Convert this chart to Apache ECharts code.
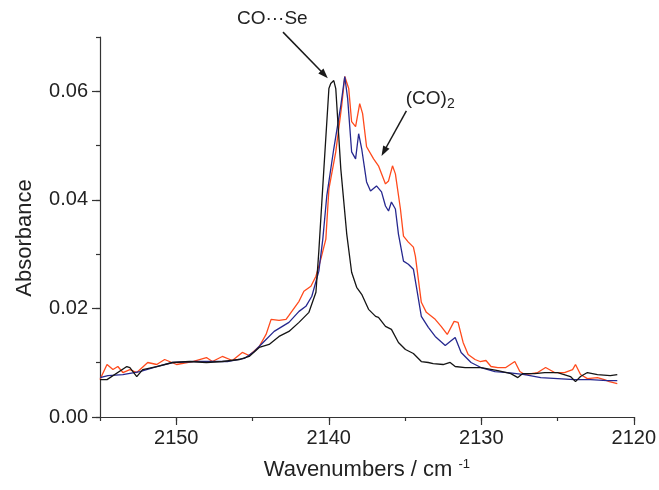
<!DOCTYPE html>
<html><head><meta charset="utf-8">
<script src="https://cdn.jsdelivr.net/npm/echarts@6/dist/echarts.min.js"></script>
<style>html,body{margin:0;padding:0;background:#fff}#c{width:659px;height:490px}</style>
</head><body><div id="c"></div>
<script>
// ---- data ----
const wnBlack = [2155.00, 2154.54, 2153.24, 2153.04, 2152.59, 2152.20, 2151.28, 2150.24, 2149.13, 2148.02, 2146.98, 2145.87, 2145.22, 2144.56, 2143.91, 2143.26, 2142.61, 2141.95, 2141.30, 2140.84, 2140.65, 2140.32, 2139.99, 2139.87, 2139.67, 2139.54, 2139.21, 2138.82, 2138.50, 2138.17, 2137.84, 2137.39, 2136.93, 2136.74, 2136.28, 2135.89, 2135.43, 2134.97, 2134.45, 2133.93, 2133.47, 2133.15, 2132.50, 2132.04, 2131.71, 2131.06, 2130.02, 2128.91, 2128.06, 2127.60, 2127.28, 2126.49, 2125.84, 2124.99, 2124.15, 2123.82, 2123.49, 2123.04, 2122.38, 2121.54, 2121.08];
const absBlack = [0.00689, 0.00689, 0.00930, 0.00911, 0.00745, 0.00874, 0.00930, 0.01004, 0.01022, 0.01004, 0.01022, 0.01059, 0.01115, 0.01281, 0.01336, 0.01484, 0.01577, 0.01743, 0.01928, 0.02298, 0.03056, 0.04571, 0.06050, 0.06142, 0.06198, 0.06050, 0.04571, 0.03370, 0.02667, 0.02390, 0.02261, 0.01983, 0.01854, 0.01835, 0.01669, 0.01614, 0.01373, 0.01244, 0.01170, 0.01022, 0.01004, 0.00985, 0.00967, 0.01004, 0.00930, 0.00911, 0.00911, 0.00856, 0.00800, 0.00726, 0.00800, 0.00800, 0.00819, 0.00819, 0.00745, 0.00652, 0.00745, 0.00819, 0.00782, 0.00763, 0.00782];

const wnBlue = [2155.00, 2154.48, 2153.50, 2152.39, 2151.28, 2150.24, 2148.80, 2146.65, 2145.54, 2144.89, 2144.24, 2143.58, 2142.61, 2141.95, 2141.50, 2141.11, 2140.65, 2140.39, 2140.13, 2139.67, 2139.21, 2138.95, 2138.76, 2138.50, 2138.24, 2138.04, 2137.84, 2137.52, 2137.26, 2136.87, 2136.54, 2136.28, 2136.08, 2135.89, 2135.63, 2135.43, 2135.10, 2134.78, 2134.45, 2134.26, 2133.93, 2133.47, 2133.02, 2132.36, 2132.04, 2131.71, 2131.32, 2130.67, 2130.02, 2129.10, 2128.25, 2127.15, 2126.10, 2124.99, 2123.88, 2122.84, 2121.73, 2121.08];
const absBlue = [0.00726, 0.00763, 0.00782, 0.00837, 0.00930, 0.01004, 0.01022, 0.01022, 0.01078, 0.01207, 0.01392, 0.01577, 0.01743, 0.01946, 0.02039, 0.02224, 0.02686, 0.03277, 0.04072, 0.04941, 0.05736, 0.06272, 0.05865, 0.04885, 0.04756, 0.05218, 0.04941, 0.04331, 0.04165, 0.04257, 0.04146, 0.03887, 0.03795, 0.03961, 0.03832, 0.03370, 0.02871, 0.02815, 0.02723, 0.02409, 0.01854, 0.01651, 0.01484, 0.01318, 0.01392, 0.01466, 0.01189, 0.01004, 0.00911, 0.00837, 0.00819, 0.00782, 0.00726, 0.00708, 0.00689, 0.00689, 0.00671, 0.00671];

const wnRed = [2155.00, 2154.54, 2154.15, 2153.83, 2153.50, 2153.04, 2152.59, 2151.87, 2151.28, 2150.76, 2149.98, 2148.93, 2148.02, 2147.63, 2146.98, 2146.32, 2145.67, 2145.22, 2144.56, 2144.11, 2143.78, 2143.26, 2142.80, 2142.61, 2141.95, 2141.63, 2141.17, 2140.84, 2140.52, 2140.19, 2139.99, 2139.54, 2139.15, 2138.95, 2138.69, 2138.50, 2138.24, 2137.97, 2137.78, 2137.52, 2137.06, 2136.74, 2136.28, 2136.08, 2135.82, 2135.63, 2135.30, 2135.10, 2134.78, 2134.45, 2134.32, 2133.93, 2133.60, 2133.02, 2132.63, 2132.23, 2131.78, 2131.52, 2131.19, 2130.86, 2130.41, 2130.08, 2129.69, 2129.36, 2128.91, 2128.39, 2127.80, 2127.47, 2127.15, 2126.30, 2125.78, 2125.19, 2124.54, 2124.01, 2123.82, 2123.49, 2123.04, 2122.38, 2121.93, 2121.60, 2121.08];
const absRed = [0.00689, 0.00967, 0.00874, 0.00930, 0.00819, 0.00874, 0.00819, 0.01004, 0.00967, 0.01059, 0.00967, 0.01022, 0.01096, 0.01022, 0.01115, 0.01041, 0.01189, 0.01133, 0.01299, 0.01521, 0.01799, 0.01780, 0.01799, 0.01872, 0.02131, 0.02316, 0.02409, 0.02593, 0.02908, 0.03277, 0.04201, 0.04885, 0.05736, 0.06272, 0.06050, 0.05440, 0.05348, 0.05773, 0.05588, 0.04978, 0.04756, 0.04627, 0.04294, 0.04349, 0.04627, 0.04479, 0.03832, 0.03333, 0.03222, 0.03129, 0.02963, 0.02113, 0.01928, 0.01799, 0.01669, 0.01521, 0.01762, 0.01743, 0.01373, 0.01152, 0.01059, 0.01022, 0.01041, 0.00930, 0.00911, 0.00911, 0.01022, 0.00837, 0.00782, 0.00819, 0.00911, 0.00819, 0.00819, 0.00874, 0.00967, 0.00782, 0.00708, 0.00726, 0.00689, 0.00652, 0.00616];

const xMajorTicks = [2120, 2130, 2140, 2150];
const yMajorTicks = [0, 0.02, 0.04, 0.06];

// annotation anchors (data units)
const seLabelAt = [2143.7, 0.0733];
const seArrow = [[2143.0, 0.0709], [2140.06, 0.0624]];
const dimerLabelAt = [2134.95, 0.0587];
const dimerArrow = [[2134.91, 0.0564], [2136.54, 0.0481]];

// ---- chart ----
const FONT = '"Liberation Sans", Arial, Helvetica, sans-serif';
const TXT = '#222';
const chart = echarts.init(document.getElementById('c'));
const pairs = (x, y) => x.map((v, i) => [v, y[i]]);

const axisBase = {
  type: 'value', splitLine: { show: false }
};
const option = {
  animation: false,
  backgroundColor: '#fff',
  grid: { left: 100, right: 23, top: 37, bottom: 73, containLabel: false },
  xAxis: [
    Object.assign({}, axisBase, {
      min: 2120, max: 2155, interval: 5, inverse: true, position: 'bottom',
      name: 'Wavenumbers / cm {sup|-1}', nameLocation: 'middle', nameGap: 41,
      nameTextStyle: { fontFamily: FONT, fontSize: 22, color: TXT,
        rich: { sup: { fontFamily: FONT, fontSize: 13, color: TXT, verticalAlign: 'top', padding: [0, 0, 10, 0] } } },
      axisLine: { show: true, onZero: false, lineStyle: { color: '#333', width: 1.2 } },
      axisTick: { show: true, length: 4, lineStyle: { color: '#333', width: 1.2 } },
      axisLabel: { fontFamily: FONT, fontSize: 20, color: TXT, margin: 11,
        formatter: v => (Math.round(v) % 10 === 0 ? String(Math.round(v)) : '') }
    }),
    Object.assign({}, axisBase, {
      min: 2120, max: 2155, interval: 5, inverse: true, position: 'bottom',
      axisLine: { show: false, onZero: false },
      axisTick: { show: true, length: 8, customValues: xMajorTicks, lineStyle: { color: '#333', width: 1.2 } },
      axisLabel: { show: false }
    })
  ],
  yAxis: [
    Object.assign({}, axisBase, {
      min: 0, max: 0.07, interval: 0.01, position: 'left',
      name: 'Absorbance', nameLocation: 'middle', nameGap: 64, nameRotate: 90,
      nameTextStyle: { fontFamily: FONT, fontSize: 22, color: TXT, padding: [0, 22, 0, 0] },
      axisLine: { show: true, onZero: false, lineStyle: { color: '#333', width: 1.2 } },
      axisTick: { show: true, length: 4, lineStyle: { color: '#333', width: 1.2 } },
      axisLabel: { fontFamily: FONT, fontSize: 20, color: TXT, margin: 12,
        formatter: v => (Math.round(v * 100) % 2 === 0 ? v.toFixed(2) : '') }
    }),
    Object.assign({}, axisBase, {
      min: 0, max: 0.07, interval: 0.01, position: 'left', offset: 0,
      axisLine: { show: false, onZero: false },
      axisTick: { show: true, length: 8, customValues: yMajorTicks, lineStyle: { color: '#333', width: 1.2 } },
      axisLabel: { show: false }
    })
  ],
  series: [
    { type: 'line', name: 'red', data: pairs(wnRed, absRed), showSymbol: false, symbol: 'none',
      lineStyle: { color: '#ff4a1c', width: 1.3 }, z: 2 },
    { type: 'line', name: 'blue', data: pairs(wnBlue, absBlue), showSymbol: false, symbol: 'none',
      lineStyle: { color: '#26288f', width: 1.3 }, z: 3 },
    { type: 'line', name: 'black', data: pairs(wnBlack, absBlack), showSymbol: false, symbol: 'none',
      lineStyle: { color: '#151515', width: 1.3 }, z: 4 }
  ]
};
chart.setOption(option);

function px(p) { return chart.convertToPixel({ xAxisIndex: 0, yAxisIndex: 0 }, p); }
function arrow(a) {
  const s = px(a[0]), e = px(a[1]);
  const dx = e[0] - s[0], dy = e[1] - s[1], L = Math.hypot(dx, dy);
  const ux = dx / L, uy = dy / L, hl = 10, hw = 3.6;
  const bx = e[0] - ux * hl, by = e[1] - uy * hl;
  return [
    { type: 'line', shape: { x1: s[0], y1: s[1], x2: bx + ux * 1, y2: by + uy * 1 },
      style: { stroke: '#1a1a1a', lineWidth: 1.5 }, z: 10 },
    { type: 'polygon', shape: { points: [[e[0], e[1]], [bx - uy * hw, by + ux * hw], [bx + uy * hw, by - ux * hw]] },
      style: { fill: '#1a1a1a' }, z: 10 }
  ];
}
const sePos = px(seLabelAt), dimerPos = px(dimerLabelAt);
chart.setOption({
  graphic: [
    ...arrow(seArrow), ...arrow(dimerArrow),
    { type: 'text', x: sePos[0], y: sePos[1], z: 10,
      style: { text: 'CO···Se', font: '19px ' + FONT, fill: TXT, align: 'center', verticalAlign: 'middle' } },
    { type: 'text', x: dimerPos[0], y: dimerPos[1], z: 10,
      style: { text: '(CO){sub|2}', font: '19px ' + FONT, fill: TXT, align: 'left', verticalAlign: 'middle',
        rich: { sub: { font: '14px ' + FONT, fill: TXT, verticalAlign: 'bottom', padding: [12, 0, 0, 0] } } } }
  ]
});
</script>
</body></html>
